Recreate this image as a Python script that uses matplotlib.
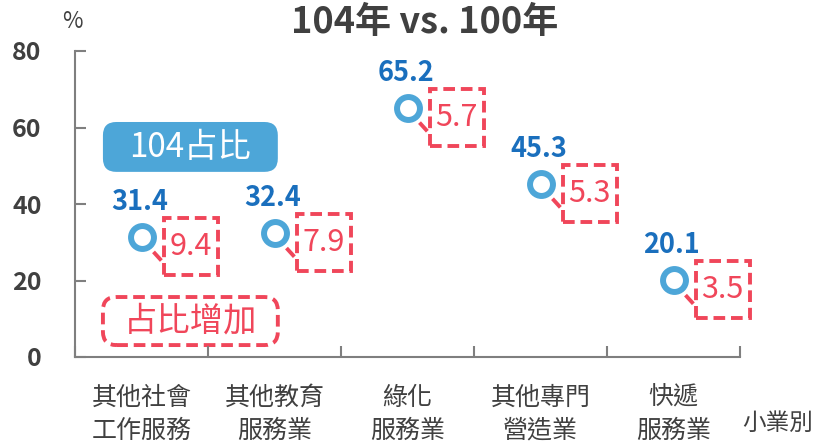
import numpy as np
import matplotlib
matplotlib.use('Agg')
import matplotlib.pyplot as plt
from matplotlib.patches import Rectangle, FancyBboxPatch
from matplotlib.transforms import ScaledTranslation

plt.rcParams['font.family'] = ['Noto Sans CJK TC', 'DejaVu Sans']

#data
categories = ['其他社會\n工作服務', '其他教育\n服務業', '綠化\n服務業', '其他專門\n營造業', '快遞\n服務業']
share_104 = [31.4, 32.4, 65.2, 45.3, 20.1]
increase = [9.4, 7.9, 5.7, 5.3, 3.5]
yticks = [0, 20, 40, 60, 80]

blue = '#4da6d8'
darkblue = '#1a6fbd'
red = '#f0465a'
grey = '#404040'

fig = plt.figure(figsize=(8.23, 4.45), dpi=100)
ax = fig.add_axes([75/823, 1-357/445, 665/823, 306/445])
x = np.arange(len(categories))

ax.plot(x, share_104, 'o', ms=16.5, mfc='white', mec=blue, mew=4.3, zorder=5)

for xi, v, d in zip(x, share_104, increase):
    # offsets in inches relative to the marker
    tr = fig.dpi_scale_trans + ScaledTranslation(xi, v, ax.transData)
    ax.text(-0.02, 0.35, '{:.1f}'.format(v), transform=tr, ha='center', va='center',
            fontsize=19.5, fontweight='bold', color=darkblue)
    ax.add_patch(Rectangle((0.22, -0.38), 0.54, 0.57, transform=tr, fill=False,
                           ec=red, lw=2.8, ls=(0, (3, 1.5)), clip_on=False))
    ax.plot([0.12, 0.22], [-0.15, -0.26], transform=tr, color=red, lw=2.8,
            ls=(0, (3, 1.5)), clip_on=False)
    ax.text(0.49, -0.095, '{:.1f}'.format(d), transform=tr, ha='center', va='center',
            fontsize=22, color=red)

#legend-like boxes
asp = 665/306
ax.add_patch(FancyBboxPatch((0.042, 0.605), 0.263, 0.163, transform=ax.transAxes,
                            boxstyle='round,pad=0,rounding_size=0.02', mutation_aspect=asp,
                            fc=blue, ec='none', clip_on=False))
ax.text(0.1735, 0.686, '104占比', transform=ax.transAxes, ha='center', va='center',
        fontsize=24, color='white')
ax.add_patch(FancyBboxPatch((0.042, 0.039), 0.263, 0.157, transform=ax.transAxes,
                            boxstyle='round,pad=0,rounding_size=0.02', mutation_aspect=asp,
                            fc='white', ec=red, lw=2.8, ls=(0, (3, 1.5)), clip_on=False))
ax.text(0.1735, 0.117, '占比增加', transform=ax.transAxes, ha='center', va='center',
        fontsize=24, color=red)

ax.set_xlim(-0.5, len(categories)-0.5)
ax.set_ylim(0, 80)
ax.set_yticks(yticks)
ax.set_yticklabels([str(t) for t in yticks], fontsize=18, fontweight='bold', color=grey)
ax.tick_params(axis='y', direction='in', length=8, width=1.5, color='#7f7f7f', pad=24)
ax.set_xticks(x)
ax.set_xticklabels(categories, fontsize=18, color=grey, linespacing=1.35)
ax.set_xticks(np.arange(len(categories)+1)-0.5, minor=True)
ax.tick_params(axis='x', which='major', length=0, pad=20)
ax.tick_params(axis='x', which='minor', direction='in', length=8, width=1.5, color='#7f7f7f')
for s in ['top', 'right']:
    ax.spines[s].set_visible(False)
for s in ['left', 'bottom']:
    ax.spines[s].set_color('#7f7f7f')
    ax.spines[s].set_linewidth(1.5)

fig.text(425/823, 1-22/445, '104年 vs. 100年', ha='center', va='center',
         fontsize=26, fontweight='bold', color=grey)
fig.text(72/823, 1-21/445, '%', ha='center', va='center', fontsize=16, color=grey)
fig.text(778/823, 1-423/445, '小業別', ha='center', va='center', fontsize=17, color=grey)

fig.savefig('out.png', dpi=100)
